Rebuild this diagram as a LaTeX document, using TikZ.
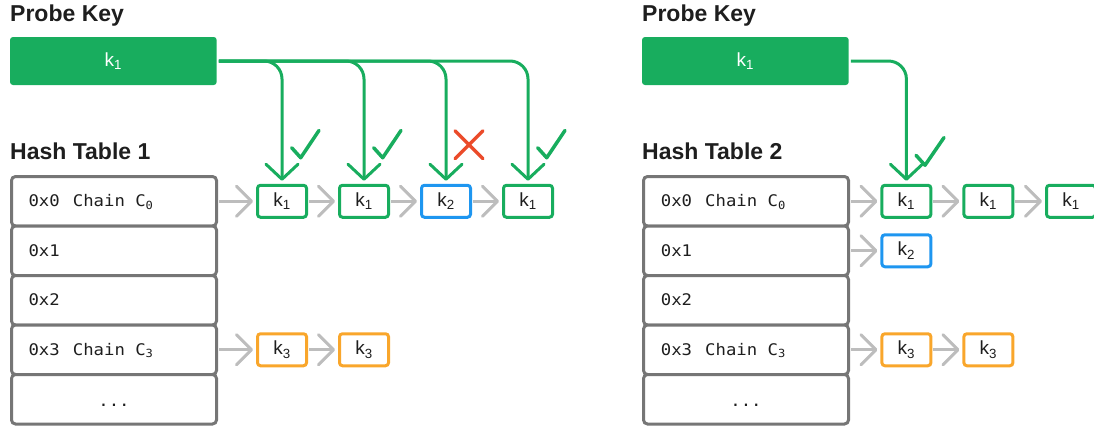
\documentclass[tikz,border=0pt]{standalone}
\usepackage{fontspec}
\setmainfont{Liberation Sans}
\newfontfamily\codefont[FakeStretch=1.08]{DejaVu Sans Mono}
\usetikzlibrary{arrows.meta}

\definecolor{ink}{HTML}{1E1E1E}
\definecolor{okgreen}{HTML}{18AD5E}
\definecolor{keyblue}{HTML}{1E96F0}
\definecolor{keyorange}{HTML}{F9A62B}
\definecolor{badred}{HTML}{EB4B2A}
\definecolor{cellgray}{HTML}{767676}
\definecolor{linkgray}{HTML}{BDBDBD}

\tikzset{
  heading/.style={font=\fontsize{23}{26}\selectfont\bfseries, text=ink, anchor=base west, inner sep=0pt},
  probebox/.style={fill=okgreen, rounded corners=3pt, minimum width=206.7pt, minimum height=48pt,
    inner sep=0pt, text=white, font=\fontsize{19}{22}\selectfont},
  tablecell/.style={draw=cellgray, line width=3pt, rounded corners=4pt, fill=white,
    minimum width=205pt, minimum height=49.5pt, inner sep=0pt},
  codetext/.style={font=\codefont\fontsize{16}{18}\selectfont, text=ink, anchor=base west, inner sep=0pt},
  keynode/.style={draw=#1, line width=3pt, rounded corners=3pt, fill=white, minimum width=49pt,
    minimum height=32pt, inner sep=0pt, text=ink, font=\fontsize{19}{22}\selectfont},
  linkarrow/.style={draw=linkgray, line width=3pt, -{Straight Barb[length=15pt,width=30pt,round]},
    shorten <=1pt, shorten >=3pt},
  probearrow/.style={draw=okgreen, line width=3pt, rounded corners=18pt,
    -{Straight Barb[length=15pt,width=32pt,round]}, shorten <=2pt, shorten >=3pt},
  okmark/.style={draw=okgreen, line width=3.5pt, line cap=round, line join=round},
  badmark/.style={draw=badred, line width=3.5pt, line cap=round},
}

\begin{document}
\begin{tikzpicture}[x=1pt, y=-1pt]
\useasboundingbox (0,0) rectangle (1094,429);
\clip (0,0) rectangle (1094,429);

% ---------------- Left: Hash Table 1 ----------------
\node[heading] (pk1title) at (10,21.7) {Probe Key};
\node[probebox] (pk1) at (113.35,61) {k\textsubscript{1}};
\node[heading] (ht1title) at (10,159.5) {Hash Table 1};

\foreach \i in {0,...,4}{
  \node[tablecell] (ta\i) at (114,{201.25+49.5*\i}) {};
}
\node[codetext] (ta0addr) at (28.3,206.75) {0x0};
\node[codetext] (ta0name) at (72.7,206.75) {Chain C\textsubscript{0}};
\node[codetext] (ta1addr) at (28.3,256.25) {0x1};
\node[codetext] (ta2addr) at (28.3,305.75) {0x2};
\node[codetext] (ta3addr) at (28.3,355.25) {0x3};
\node[codetext] (ta3name) at (72.7,355.25) {Chain C\textsubscript{3}};
\node[codetext, anchor=base] (ta4dots) at (114,406) {...};

\node[keynode=okgreen]    (a1) at (282,201.25) {k\textsubscript{1}};
\node[keynode=okgreen]    (a2) at (364,201.25) {k\textsubscript{1}};
\node[keynode=keyblue]    (a3) at (446,201.25) {k\textsubscript{2}};
\node[keynode=okgreen]    (a4) at (528,201.25) {k\textsubscript{1}};
\node[keynode=keyorange]  (a5) at (282,349.75) {k\textsubscript{3}};
\node[keynode=keyorange]  (a6) at (364,349.75) {k\textsubscript{3}};

\draw[linkarrow] (ta0.east) -- (a1.west);
\draw[linkarrow] (a1.east) -- (a2.west);
\draw[linkarrow] (a2.east) -- (a3.west);
\draw[linkarrow] (a3.east) -- (a4.west);
\draw[linkarrow] (ta3.east) -- (a5.west);
\draw[linkarrow] (a5.east) -- (a6.west);

\draw[probearrow] (pk1.east) -| (a1.north);
\draw[probearrow] (pk1.east) -| (a2.north);
\draw[probearrow] (pk1.east) -| (a3.north);
\draw[probearrow] (pk1.east) -| (a4.north);

% verdict marks beside each probe
\draw[okmark] ([shift={(9.7,-36)}]a1.north) -- ++(9,10) -- ++(18.3,-27.3);
\draw[okmark] ([shift={(9.7,-36)}]a2.north) -- ++(9,10) -- ++(18.3,-27.3);
\draw[okmark] ([shift={(9.7,-36)}]a4.north) -- ++(9,10) -- ++(18.3,-27.3);
\draw[badmark] ([shift={(9,-53)}]a3.north) -- ++(28,28);
\draw[badmark] ([shift={(37,-53)}]a3.north) -- ++(-28,28);

% ---------------- Right: Hash Table 2 ----------------
\node[heading] (pk2title) at (642,21.7) {Probe Key};
\node[probebox] (pk2) at (745.35,61) {k\textsubscript{1}};
\node[heading] (ht2title) at (642,159.5) {Hash Table 2};

\foreach \i in {0,...,4}{
  \node[tablecell] (tb\i) at (746,{201.25+49.5*\i}) {};
}
\node[codetext] (tb0addr) at (660.7,206.75) {0x0};
\node[codetext] (tb0name) at (705,206.75) {Chain C\textsubscript{0}};
\node[codetext] (tb1addr) at (660.7,256.25) {0x1};
\node[codetext] (tb2addr) at (660.7,305.75) {0x2};
\node[codetext] (tb3addr) at (660.7,355.25) {0x3};
\node[codetext] (tb3name) at (705,355.25) {Chain C\textsubscript{3}};
\node[codetext, anchor=base] (tb4dots) at (746,406) {...};

\node[keynode=okgreen]    (b1) at (906.4,201.25) {k\textsubscript{1}};
\node[keynode=okgreen]    (b2) at (988.4,201.25) {k\textsubscript{1}};
\node[keynode=okgreen]    (b3) at (1071,201.25) {k\textsubscript{1}};
\node[keynode=keyblue]    (b4) at (906.4,250.75) {k\textsubscript{2}};
\node[keynode=keyorange]  (b5) at (906.4,349.75) {k\textsubscript{3}};
\node[keynode=keyorange]  (b6) at (988.4,349.75) {k\textsubscript{3}};

\draw[linkarrow] (tb0.east) -- (b1.west);
\draw[linkarrow] (b1.east) -- (b2.west);
\draw[linkarrow] (b2.east) -- (b3.west);
\draw[linkarrow] (tb1.east) -- (b4.west);
\draw[linkarrow] (tb3.east) -- (b5.west);
\draw[linkarrow] (b5.east) -- (b6.west);

\draw[probearrow] (pk2.east) -| (b1.north);
\draw[okmark] ([shift={(9.6,-28.5)}]b1.north) -- ++(9,10) -- ++(19,-27.7);
\end{tikzpicture}
\end{document}
